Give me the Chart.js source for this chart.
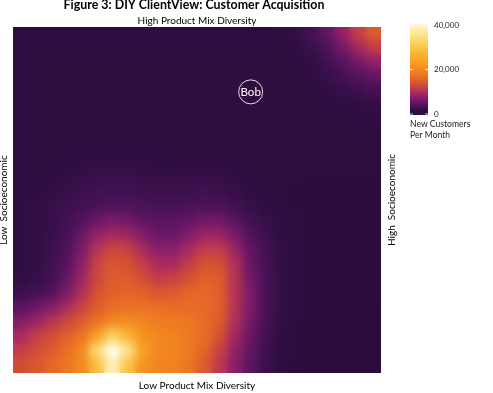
<!DOCTYPE html>
<html>
<head>
    <title>Figure 3: DIY ClientView: Customer Acquisition</title>
    <script src="https://cdn.jsdelivr.net/npm/chart.js"></script>
    <style>
        html, body { margin: 0; padding: 0; background: #fff; }
        canvas { display: block; }
    </style>
</head>
<body>
<canvas id="heat" width="493" height="393"></canvas>
<script>
    // Сетка значений (тыс. новых клиентов в месяц), строки сверху вниз
    const r00 = [1.6,1.6,1.6,1.6,1.6,1.6,1.6,1.6,1.6,1.6,1.6,1.6,1.6,1.6,1.6,1.6,1.6,1.7,2.3,3.5,5.5,8.5,12,15];
    const r01 = [1.6,1.6,1.6,1.6,1.6,1.6,1.6,1.6,1.6,1.6,1.6,1.6,1.6,1.6,1.6,1.6,1.6,1.6,2,2.8,4.2,6.5,9.5,12];
    const r02 = [1.6,1.6,1.6,1.6,1.6,1.6,1.6,1.6,1.6,1.6,1.6,1.6,1.6,1.6,1.6,1.6,1.6,1.6,1.7,2.2,3.2,4.8,6.5,8.5];
    const r03 = [1.6,1.6,1.6,1.6,1.6,1.6,1.6,1.6,1.6,1.6,1.6,1.6,1.6,1.6,1.6,1.6,1.6,1.6,1.6,1.9,2.5,3.5,4.5,5.5];
    const r04 = [1.6,1.6,1.6,1.6,1.6,1.6,1.6,1.6,1.6,1.6,1.6,1.6,1.6,1.6,1.6,1.6,1.6,1.6,1.6,1.7,2,2.5,3,3.6];
    const r05 = [1.5,1.5,1.5,1.5,1.5,1.5,1.5,1.5,1.5,1.5,1.5,1.5,1.5,1.5,1.5,1.5,1.5,1.5,1.5,1.5,1.6,1.8,2.1,2.4];
    const r06 = [1.5,1.5,1.5,1.5,1.5,1.5,1.5,1.5,1.5,1.5,1.5,1.5,1.5,1.5,1.5,1.5,1.5,1.5,1.5,1.5,1.5,1.5,1.6,1.8];
    const r07 = [1.5,1.5,1.5,1.5,1.5,1.5,1.5,1.5,1.5,1.5,1.5,1.5,1.5,1.5,1.5,1.5,1.5,1.5,1.5,1.5,1.5,1.5,1.5,1.5];
    const r08 = [1.6,1.6,1.6,1.6,1.6,1.6,1.6,1.6,1.5,1.5,1.5,1.5,1.5,1.5,1.5,1.5,1.5,1.5,1.5,1.5,1.5,1.5,1.5,1.5];
    const r09 = [1.6,1.7,1.8,2,2.1,2.2,2.2,2.2,2.1,2,2,2,2,1.9,1.7,1.5,1.5,1.5,1.4,1.4,1.4,1.4,1.4,1.4];
    const r10 = [1.7,1.8,2,2.2,2.5,2.7,2.8,2.8,2.6,2.4,2.4,2.5,2.6,2.5,2.1,1.8,1.5,1.4,1.4,1.3,1.3,1.3,1.3,1.3];
    const r11 = [1.8,2,2.2,2.6,3,3.3,3.5,3.5,3.2,3,3,3.1,3.3,3.1,2.6,2.1,1.7,1.4,1.3,1.3,1.3,1.3,1.3,1.3];
    const r12 = [2,2.2,2.6,3,3.5,4,4.3,4.3,4,3.8,3.8,4,4.2,4,3.3,2.6,2,1.6,1.3,1.3,1.3,1.2,1.2,1.2];
    const r13 = [2,2.2,2.6,3.3,4.5,6,7,6.5,5.5,5,5,5.5,6.5,6.5,5,3.5,2.5,1.8,1.4,1.2,1.2,1.2,1.2,1.2];
    const r14 = [2,2.2,2.7,3.8,6,8.5,10,9.5,7.5,6,6,7.5,9,9,7,4.5,3,2,1.5,1.2,1.2,1.2,1.1,1.1];
    const r15 = [2,2.2,2.8,4.2,7,11,13,12.5,10,8,8,10,12,12,9,5.5,3.5,2.2,1.5,1.1,1.1,1.1,1.1,1.1];
    const r16 = [2,2.3,3,4.8,8,12.5,14.5,14,12,10,10,12,14,14,10.5,6,3.8,2.3,1.5,1.1,1.1,1,1,1];
    const r17 = [2.2,2.6,3.5,5.5,9,13,15,15,13.5,12,12.5,14,15.5,15,11,6.5,4,2.4,1.5,1,1,1,1,1];
    const r18 = [3,3.5,4.5,7,10.5,14,15.5,16,15.5,14.5,15,16,16.5,15.5,11,7,4,2.4,1.5,1,1,1,1,1];
    const r19 = [5,6,7.5,10,12.5,15,17,17.5,17.5,17,17,17,16.5,15.5,11,7,4,2.3,1.4,1,1,1,0.9,0.9];
    const r20 = [7.5,9,11,13,15,17.5,20.5,21,20,19,18.5,18,17,15,10.5,6.5,3.8,2.2,1.3,1,0.9,0.9,0.9,0.9];
    const r21 = [10,12,13.5,15.5,17.5,24,33,28,22,20,19.5,18.5,17,14,9.5,6,3.5,2,1.2,0.9,0.9,0.9,0.8,0.8];
    const r22 = [12,13.5,15,17,20.5,34,44,36,24,20.5,20,18.5,16,12.5,8.5,5.5,3.2,1.8,1.1,0.8,0.8,0.8,0.8,0.8];
    const r23 = [13.5,14.5,16,18,20.5,29,39,30,22,20,19.5,18,15,11.5,8,5,3,1.7,1,0.8,0.8,0.8,0.8,0.8];
    const heatRows = [r00,r01,r02,r03,r04,r05,r06,r07,r08,r09,r10,r11,r12,r13,r14,r15,r16,r17,r18,r19,r20,r21,r22,r23];

    // Отметка "Bob" (в координатах сетки)
    const bobPoint = [{ x: 15.5, y: 4.5 }];
    const bobLabel = 'Bob';

    // Шкала легенды
    const legendTicks = [0, 20000, 40000];
    const legendMax = 40000;

    // Палитра (значение в тыс.)
    const stops = [
        [0, '#2a0b3d'], [2, '#2f0e42'], [4, '#4a1258'], [6, '#6a1766'],
        [8, '#8a1f6a'], [10, '#a82a5f'], [12, '#c23d4b'], [14, '#d4522f'],
        [16, '#e4652a'], [19, '#f07e21'], [23, '#f79a1e'], [28, '#f9b73a'],
        [33, '#fbd564'], [38, '#fdeea8'], [42, '#fffdf0']
    ];
    const hex = h => [1, 3, 5].map(i => parseInt(h.substr(i, 2), 16));
    function colorOf(v) {
        if (v <= stops[0][0]) return stops[0][1];
        for (let k = 1; k < stops.length; k++) {
            if (v <= stops[k][0]) {
                const [v0, c0] = stops[k - 1], [v1, c1] = stops[k];
                const t = (v - v0) / (v1 - v0);
                const a = hex(c0), b = hex(c1);
                return `rgb(${a.map((x, i) => Math.round(x + (b[i] - x) * t)).join(',')})`;
            }
        }
        return stops[stops.length - 1][1];
    }

    const cells = [], cellColors = [];
    heatRows.forEach((row, j) => row.forEach((v, i) => {
        cells.push({ x: i + 0.5, y: j + 0.5, v: v });
        cellColors.push(colorOf(v));
    }));

    const FONT = 'Lato, "Open Sans", sans-serif';

    // Сглаживание: поверх резких клеток кладём размытую копию области графика
    const smooth = {
        id: 'smooth',
        afterDatasetDraw(chart, args) {
            if (args.index !== 0) return;
            const a = chart.chartArea;
            const dpr = chart.currentDevicePixelRatio || 1;
            const w = a.right - a.left, h = a.bottom - a.top;
            const off = document.createElement('canvas');
            off.width = Math.round(w * dpr);
            off.height = Math.round(h * dpr);
            off.getContext('2d').drawImage(chart.canvas, a.left * dpr, a.top * dpr, w * dpr, h * dpr, 0, 0, off.width, off.height);
            const ctx = chart.ctx;
            ctx.save();
            ctx.beginPath();
            ctx.rect(a.left, a.top, w, h);
            ctx.clip();
            ctx.filter = 'blur(5px)';
            ctx.drawImage(off, a.left, a.top, w, h);
            ctx.restore();
        }
    };

    const decor = {
        id: 'decor',
        afterDraw(chart) {
            const ctx = chart.ctx;
            const a = chart.chartArea;
            const cy = (a.top + a.bottom) / 2;
            ctx.save();
            ctx.fillStyle = '#000';
            ctx.textAlign = 'center';
            ctx.textBaseline = 'middle';
            ctx.font = 'bold 12.4px ' + FONT;
            ctx.fillText('Figure 3: DIY ClientView: Customer Acquisition', 194, 5);
            ctx.font = '10px ' + FONT;
            ctx.fillText('High Product Mix Diversity', (a.left + a.right) / 2, 21);
            ctx.fillText('Low Product Mix Diversity', (a.left + a.right) / 2, 386);

            ctx.save();
            ctx.translate(4, cy);
            ctx.rotate(-Math.PI / 2);
            ctx.fillText('Low  Socioeconomic', 0, 0);
            ctx.restore();
            ctx.save();
            ctx.translate(391.5, cy);
            ctx.rotate(-Math.PI / 2);
            ctx.fillText('High  Socioeconomic', 0, 0);
            ctx.restore();

            // Bob
            const bob = chart.getDatasetMeta(1).data[0];
            ctx.fillStyle = '#fff';
            ctx.font = '11.5px ' + FONT;
            ctx.fillText(bobLabel, bob.x, bob.y + 0.5);

            // Цветовая шкала
            const bx = 410, bw = 18, top = 24, bottom = 115;
            const g = ctx.createLinearGradient(0, bottom, 0, top);
            for (let k = 0; k <= 40; k++) {
                g.addColorStop(k / 40, colorOf(k * legendMax / 40 / 1000 * 1.02));
            }
            ctx.fillStyle = g;
            ctx.fillRect(bx, top, bw, bottom - top);
            ctx.strokeStyle = 'rgba(255,255,255,0.8)';
            ctx.lineWidth = 1;
            ctx.font = '8px ' + FONT;
            ctx.fillStyle = '#222';
            ctx.textAlign = 'left';
            legendTicks.forEach(t => {
                const y = bottom - (t / legendMax) * (bottom - top - 2) - 1;
                ctx.beginPath();
                ctx.moveTo(bx, y); ctx.lineTo(bx + 3, y);
                ctx.moveTo(bx + bw - 3, y); ctx.lineTo(bx + bw, y);
                ctx.stroke();
                ctx.fillText(t.toLocaleString('en-US'), 434, y);
            });
            ctx.font = '8.6px ' + FONT;
            ctx.fillText('New Customers', 410, 124);
            ctx.fillText('Per Month', 410, 135);
            ctx.restore();
        }
    };

    new Chart(document.getElementById('heat'), {
        type: 'scatter',
        data: {
            datasets: [{
                data: cells,
                order: 1,
                pointStyle: 'rect',
                pointRadius: 11.6,
                pointHoverRadius: 11.6,
                pointBorderWidth: 0,
                pointBackgroundColor: cellColors,
                pointBorderColor: cellColors
            }, {
                data: bobPoint,
                order: 0,
                pointRadius: 12,
                pointHoverRadius: 12,
                pointBorderWidth: 1,
                pointBorderColor: 'rgba(255,255,255,0.85)',
                pointBackgroundColor: 'rgba(0,0,0,0)'
            }]
        },
        options: {
            responsive: false,
            animation: false,
            events: [],
            layout: { padding: { left: 13, top: 27, right: 112, bottom: 20 } },
            plugins: { legend: { display: false }, tooltip: { enabled: false } },
            scales: {
                x: { type: 'linear', min: 0, max: 24, display: false },
                y: { type: 'linear', min: 0, max: 24, reverse: true, display: false }
            }
        },
        plugins: [smooth, decor]
    });
</script>
</body>
</html>
